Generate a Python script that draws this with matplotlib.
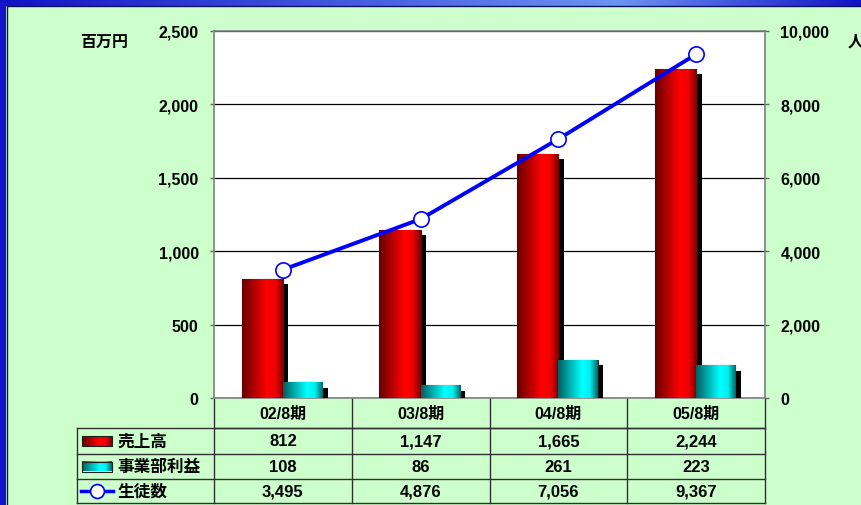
import numpy as np
import matplotlib.pyplot as plt
from matplotlib import patheffects
from matplotlib.lines import Line2D

plt.rcParams['font.family'] = ['Liberation Sans', 'Noto Sans CJK JP']
plt.rcParams['font.weight'] = 'bold'

periods = ['02/8期', '03/8期', '04/8期', '05/8期']
sales = [812, 1147, 1665, 2244]
profit = [108, 86, 261, 223]
students = [3495, 4876, 7056, 9367]
row_labels = ['売上高', '事業部利益', '生徒数']

W, H = 861, 506
BG = '#CCFFCC'

fig = plt.figure(figsize=(W / 100, H / 100), dpi=100)
fig.patch.set_facecolor(BG)


def frac(x0, y0, x1, y1):
    # pixel box (top-left origin) -> figure fraction rect
    return [x0 / W, 1 - y1 / H, (x1 - x0) / W, (y1 - y0) / H]


# blue frame: gradient band on top, strip on the left
band = fig.add_axes(frac(0, 0, W, 7))
t = np.linspace(0, 1, 300)
g = np.where(t < 0.72, t / 0.72, (1 - t) / 0.28)
cmap_band = plt.matplotlib.colors.LinearSegmentedColormap.from_list(
    'band', ['#1212C6', '#6C94F2'])
band.imshow(g[None, :], aspect='auto', cmap=cmap_band, extent=[0, 1, 0, 1])
band.axis('off')
side = fig.add_axes(frac(0, 0, 6, H))
side.set_facecolor('#1414C8')
side.set_xticks([])
side.set_yticks([])
for s in side.spines.values():
    s.set_visible(False)
fig.add_artist(Line2D([6.5 / W, 6.5 / W], [0, 1 - 7 / H], color='#101060', lw=1))
fig.add_artist(Line2D([6.5 / W, 1], [1 - 7 / H, 1 - 7 / H], color='#101060', lw=1))

# main chart
ax = fig.add_axes(frac(214, 32, 765, 399))
ax.set_facecolor('white')
x = np.arange(len(periods))
ax.set_xlim(-0.5, len(periods) - 0.5)
ax.set_ylim(0, 2500)
ax.set_yticks(np.arange(0, 2501, 500))
ax.set_yticklabels([f'{v:,}' for v in range(0, 2501, 500)], fontsize=11.5)
ax.tick_params(axis='y', length=3, width=1, color='#666666', pad=8)
ax.set_xticks([])
ax.yaxis.grid(True, color='black', lw=0.9)
ax.set_axisbelow(True)
for s in ax.spines.values():
    s.set_color('#808080')
    s.set_linewidth(1.2)

red_cmap = plt.matplotlib.colors.LinearSegmentedColormap.from_list(
    'r', [(0, '#680000'), (0.6, '#FF0000'), (0.8, '#F00000'), (1, '#780000')])
cyan_cmap = plt.matplotlib.colors.LinearSegmentedColormap.from_list(
    'c', [(0, '#006060'), (0.6, '#00FFFF'), (0.8, '#00F0F0'), (1, '#006868')])
grad = np.linspace(0, 1, 100)[None, :]

bw_r, bw_c = 0.30, 0.285
shadow = [patheffects.SimplePatchShadow(offset=(4, -4), shadow_rgbFace='black',
                                        alpha=1.0), patheffects.Normal()]
for vals, off, w, cm in [(sales, -0.30, bw_r, red_cmap),
                         (profit, 0.0, bw_c, cyan_cmap)]:
    bars = ax.bar(x + off, vals, width=w, align='edge', facecolor='none',
                  edgecolor='#202020', lw=0.8, zorder=3)
    for b in bars:
        b.set_path_effects(shadow)
        x0, y0 = b.get_x(), b.get_y()
        im = ax.imshow(grad, aspect='auto', cmap=cm,
                       extent=[x0, x0 + b.get_width(), y0, y0 + b.get_height()],
                       zorder=3.5)
        im.set_clip_path(b)
ax.set_xlim(-0.5, len(periods) - 0.5)
ax.set_ylim(0, 2500)

ax2 = ax.twinx()
ax2.set_ylim(0, 10000)
ax2.set_yticks(np.arange(0, 10001, 2000))
ax2.set_yticklabels([f'{v:,}' for v in range(0, 10001, 2000)], fontsize=11.5)
ax2.tick_params(axis='y', length=3, width=1, color='#666666', pad=8)
for s in ax2.spines.values():
    s.set_visible(False)
ax2.plot(x, students, color='#0000FF', lw=2.8, marker='o', ms=11,
         mfc='white', mec='#0000FF', mew=1.2, zorder=5)

fig.text(80 / W, 1 - 42 / H, '百万円', fontsize=11.5, va='center', ha='left')
fig.text(848 / W, 1 - 42 / H, '人', fontsize=11.5, va='center', ha='left')

# data table under the chart
tab = fig.add_axes([0, 0, 1, 1], zorder=-1)
tab.set_xlim(0, W)
tab.set_ylim(H, 0)
tab.axis('off')
cols = np.linspace(214, 765, len(periods) + 1)
rows = [399, 429, 455, 480, 504]
lc = '#303030'
tab.plot([214, 765], [429, 429], color=lc, lw=1)
for cx in cols:
    tab.plot([cx, cx], [399, rows[-1]], color=lc, lw=1)
for ry in rows[1:]:
    tab.plot([77, 765], [ry, ry], color=lc, lw=1)
tab.plot([77, 77], [429, rows[-1]], color=lc, lw=1)

centers = (cols[:-1] + cols[1:]) / 2
for cx, p in zip(centers, periods):
    tab.text(cx, 414, p, ha='center', va='center', fontsize=11.5)
for r, series in enumerate([sales, profit, students]):
    yc = (rows[r + 1] + rows[r + 2]) / 2
    for cx, v in zip(centers, series):
        tab.text(cx, yc, f'{v:,}', ha='center', va='center', fontsize=12)
    tab.text(117, yc, row_labels[r], ha='left', va='center', fontsize=12)

# legend keys in the table
for r, cm in enumerate([red_cmap, cyan_cmap]):
    yc = (rows[r + 1] + rows[r + 2]) / 2
    tab.imshow(grad, aspect='auto', cmap=cm,
               extent=[82, 112, yc + 5, yc - 5], zorder=2)
    tab.add_patch(plt.Rectangle((82, yc - 5), 30, 10, fill=False,
                                ec='#202020', lw=0.8, zorder=3))
yc = (rows[3] + rows[4]) / 2
tab.plot([81, 113], [yc, yc], color='#0000FF', lw=2.5)
tab.plot([97], [yc], marker='o', ms=10, mfc='white', mec='#0000FF', mew=1.2)
tab.set_xlim(0, W)
tab.set_ylim(H, 0)

fig.savefig('out.png', dpi=100, facecolor=BG)
